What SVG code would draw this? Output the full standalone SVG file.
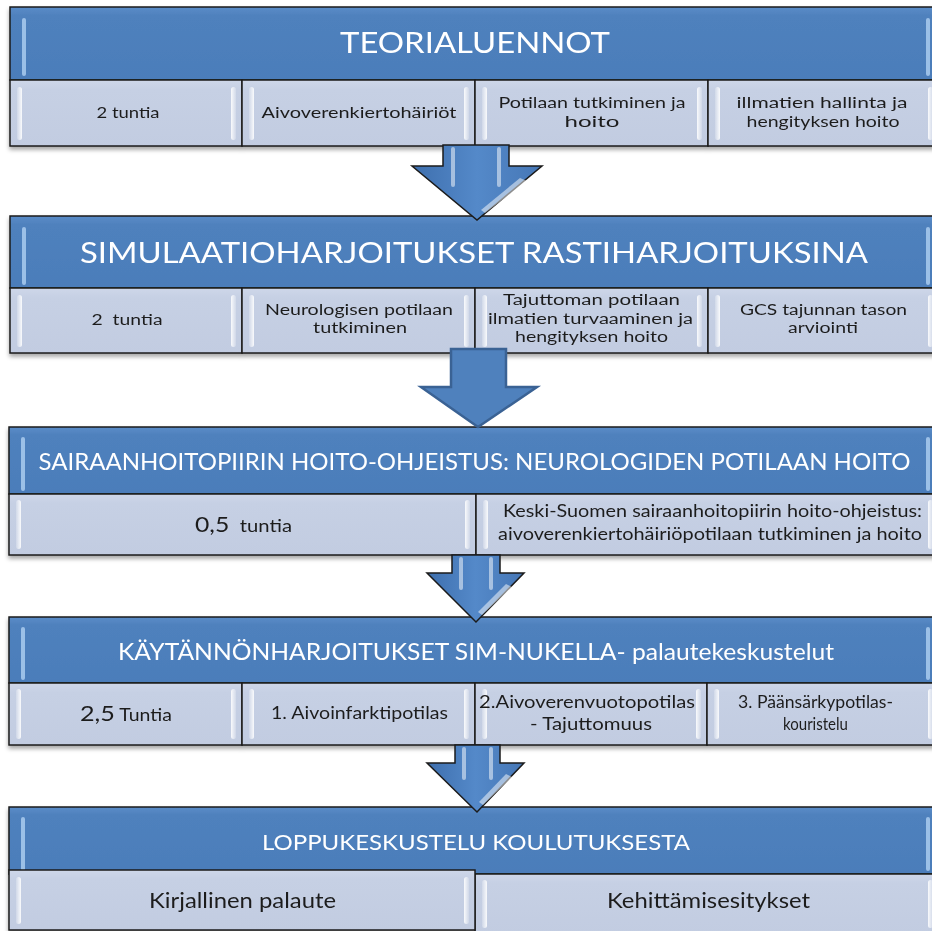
<svg xmlns="http://www.w3.org/2000/svg" width="932" height="931" viewBox="0 0 932 931">
<defs>
  <linearGradient id="hdr" x1="0" y1="0" x2="0" y2="1">
    <stop offset="0" stop-color="#5A8CC8"/>
    <stop offset="0.12" stop-color="#4F81BD"/>
    <stop offset="1" stop-color="#4B7DBA"/>
  </linearGradient>
  <linearGradient id="cell" x1="0" y1="0" x2="0" y2="1">
    <stop offset="0" stop-color="#CED7E9"/>
    <stop offset="0.15" stop-color="#C6D0E4"/>
    <stop offset="1" stop-color="#C2CCE1"/>
  </linearGradient>
  <linearGradient id="hlL" x1="0" y1="0" x2="1" y2="0">
    <stop offset="0" stop-color="#FFFFFF" stop-opacity="0.2"/>
    <stop offset="1" stop-color="#FFFFFF" stop-opacity="0.9"/>
  </linearGradient>
  <linearGradient id="hlR" x1="0" y1="0" x2="1" y2="0">
    <stop offset="0" stop-color="#FFFFFF" stop-opacity="0.9"/>
    <stop offset="1" stop-color="#FFFFFF" stop-opacity="0.2"/>
  </linearGradient>
  <linearGradient id="arr" x1="0" y1="0" x2="1" y2="0">
    <stop offset="0" stop-color="#3E6FAE"/>
    <stop offset="0.5" stop-color="#5489C9"/>
    <stop offset="1" stop-color="#4677B6"/>
  </linearGradient>
  <filter id="sh" x="-5%" y="-10%" width="110%" height="130%">
    <feDropShadow dx="0" dy="3" stdDeviation="2" flood-color="#000" flood-opacity="0.35"/>
  </filter>
  <style>
    .hdr{fill:url(#hdr);stroke:#1B1B1B;stroke-width:1.5}
    .cell{fill:url(#cell);stroke:#1B1B1B;stroke-width:1.5}
    .hl{fill:url(#hlL)}
    .hr{fill:url(#hlR)}
    .hb{fill:#A9CBEF;opacity:0.85}
    .ht{font-family:Lato,"Open Sans",sans-serif;fill:#FFFFFF;text-anchor:middle}
    .ct{font-family:Lato,"Open Sans",sans-serif;fill:#1E1E1E;text-anchor:middle}
    .arrG{fill:url(#arr);stroke:#1B1B1B;stroke-width:1.5;stroke-linejoin:miter}
    .arrF{fill:#4F81BD;stroke:#3A6294;stroke-width:2.5;stroke-linejoin:miter}
    .gl{fill:#FFFFFF;opacity:0.5}
  </style>
</defs>
<rect width="932" height="931" fill="#FFFFFF"/>

<!-- Section 1 -->
<g id="teorialuennot" filter="url(#sh)">
  <rect class="hdr" x="10" y="7" width="931" height="73"/>
  <rect class="hb" x="22" y="18" width="4" height="58" rx="2"/>
  <rect class="hb" x="926" y="18" width="4" height="58" rx="2"/>
  <text class="ht" x="475" y="53" font-size="28" textLength="270" lengthAdjust="spacingAndGlyphs">TEORIALUENNOT</text>
  <g id="t1c1"><rect class="cell" x="10" y="80" width="232" height="66"/><rect class="hl" x="17" y="87" width="5" height="53" rx="2.5"/><rect class="hr" x="231" y="87" width="5" height="53" rx="2.5"/>
    <text class="ct" x="128" y="118" font-size="15" textLength="63" lengthAdjust="spacingAndGlyphs">2 tuntia</text></g>
  <g id="t1c2"><rect class="cell" x="242" y="80" width="233" height="66"/><rect class="hl" x="249" y="87" width="5" height="53" rx="2.5"/><rect class="hr" x="464" y="87" width="5" height="53" rx="2.5"/>
    <text class="ct" x="359" y="118" font-size="15" textLength="195" lengthAdjust="spacingAndGlyphs">Aivoverenkiertohäiriöt</text></g>
  <g id="t1c3"><rect class="cell" x="475" y="80" width="233" height="66"/><rect class="hl" x="482" y="87" width="5" height="53" rx="2.5"/><rect class="hr" x="697" y="87" width="5" height="53" rx="2.5"/>
    <text class="ct" x="592" y="108" font-size="15" textLength="187" lengthAdjust="spacingAndGlyphs">Potilaan tutkiminen ja</text>
    <text class="ct" x="592" y="127" font-size="15" textLength="55" lengthAdjust="spacingAndGlyphs">hoito</text></g>
  <g id="t1c4"><rect class="cell" x="708" y="80" width="233" height="66"/><rect class="hl" x="715" y="87" width="5" height="53" rx="2.5"/><rect class="hr" x="928" y="87" width="5" height="53" rx="2.5"/>
    <text class="ct" x="822" y="108" font-size="15" textLength="171" lengthAdjust="spacingAndGlyphs">illmatien hallinta ja</text>
    <text class="ct" x="823" y="127" font-size="15" textLength="153" lengthAdjust="spacingAndGlyphs">hengityksen hoito</text></g>
</g>

<!-- Section 2 -->
<g id="simulaatio" filter="url(#sh)">
  <rect class="hdr" x="10" y="216" width="931" height="72"/>
  <rect class="hb" x="22" y="227" width="4" height="58" rx="2"/>
  <rect class="hb" x="926" y="227" width="4" height="58" rx="2"/>
  <text class="ht" x="474" y="263" font-size="28" textLength="788" lengthAdjust="spacingAndGlyphs">SIMULAATIOHARJOITUKSET RASTIHARJOITUKSINA</text>
  <g id="t2c1"><rect class="cell" x="10" y="288" width="232" height="65"/><rect class="hl" x="17" y="295" width="5" height="52" rx="2.5"/><rect class="hr" x="231" y="295" width="5" height="52" rx="2.5"/>
    <text class="ct" x="127" y="325" font-size="15.5" textLength="71" lengthAdjust="spacingAndGlyphs" xml:space="preserve">2  tuntia</text></g>
  <g id="t2c2"><rect class="cell" x="242" y="288" width="233" height="65"/><rect class="hl" x="249" y="295" width="5" height="52" rx="2.5"/><rect class="hr" x="464" y="295" width="5" height="52" rx="2.5"/>
    <text class="ct" x="359" y="315" font-size="14.5" textLength="188" lengthAdjust="spacingAndGlyphs">Neurologisen potilaan</text>
    <text class="ct" x="360" y="333" font-size="14.5" textLength="94" lengthAdjust="spacingAndGlyphs">tutkiminen</text></g>
  <g id="t2c3"><rect class="cell" x="475" y="288" width="233" height="65"/><rect class="hl" x="482" y="295" width="5" height="52" rx="2.5"/><rect class="hr" x="697" y="295" width="5" height="52" rx="2.5"/>
    <text class="ct" x="591.5" y="305" font-size="14.5" textLength="177" lengthAdjust="spacingAndGlyphs">Tajuttoman potilaan</text>
    <text class="ct" x="590.5" y="323.5" font-size="14.5" textLength="205" lengthAdjust="spacingAndGlyphs">ilmatien turvaaminen ja</text>
    <text class="ct" x="591.5" y="342" font-size="14.5" textLength="153" lengthAdjust="spacingAndGlyphs">hengityksen hoito</text></g>
  <g id="t2c4"><rect class="cell" x="708" y="288" width="233" height="65"/><rect class="hl" x="715" y="295" width="5" height="52" rx="2.5"/><rect class="hr" x="928" y="295" width="5" height="52" rx="2.5"/>
    <text class="ct" x="823.5" y="315" font-size="14.5" textLength="167" lengthAdjust="spacingAndGlyphs">GCS tajunnan tason</text>
    <text class="ct" x="823" y="333" font-size="14.5" textLength="70" lengthAdjust="spacingAndGlyphs">arviointi</text></g>
</g>

<!-- Section 3 -->
<g id="ohjeistus" filter="url(#sh)">
  <rect class="hdr" x="9" y="427" width="932" height="67"/>
  <rect class="hb" x="21" y="437" width="4" height="54" rx="2"/>
  <rect class="hb" x="926" y="437" width="4" height="54" rx="2"/>
  <text class="ht" x="474.5" y="470" font-size="24" textLength="872" lengthAdjust="spacingAndGlyphs">SAIRAANHOITOPIIRIN HOITO-OHJEISTUS: NEUROLOGIDEN POTILAAN HOITO</text>
  <g id="t3c1"><rect class="cell" x="9" y="494" width="467" height="61"/><rect class="hl" x="16" y="500" width="5" height="49" rx="2.5"/><rect class="hr" x="465" y="500" width="5" height="49" rx="2.5"/>
    <text class="ct" x="243.5" y="532" textLength="97" lengthAdjust="spacingAndGlyphs" xml:space="preserve"><tspan font-size="22">0,5</tspan><tspan font-size="18">  tuntia</tspan></text></g>
  <g id="t3c2"><rect class="cell" x="476" y="494" width="465" height="61"/><rect class="hl" x="483" y="500" width="5" height="49" rx="2.5"/><rect class="hr" x="928" y="500" width="5" height="49" rx="2.5"/>
    <text class="ct" x="712.5" y="517" font-size="17" textLength="419" lengthAdjust="spacingAndGlyphs">Keski-Suomen sairaanhoitopiirin hoito-ohjeistus:</text>
    <text class="ct" x="710" y="540" font-size="17" textLength="424" lengthAdjust="spacingAndGlyphs">aivoverenkiertohäiriöpotilaan tutkiminen ja hoito</text></g>
</g>

<!-- Section 4 -->
<g id="kaytannon" filter="url(#sh)">
  <rect class="hdr" x="9" y="617" width="932" height="66"/>
  <rect class="hb" x="21" y="627" width="4" height="53" rx="2"/>
  <rect class="hb" x="926" y="627" width="4" height="53" rx="2"/>
  <text class="ht" x="476" y="660" font-size="24" textLength="716" lengthAdjust="spacingAndGlyphs">KÄYTÄNNÖNHARJOITUKSET SIM-NUKELLA- palautekeskustelut</text>
  <g id="t4c1"><rect class="cell" x="9" y="683" width="233" height="62"/><rect class="hl" x="16" y="689" width="5" height="50" rx="2.5"/><rect class="hr" x="231" y="689" width="5" height="50" rx="2.5"/>
    <text class="ct" x="126" y="721" textLength="92" lengthAdjust="spacingAndGlyphs"><tspan font-size="22">2,5</tspan><tspan font-size="17"> Tuntia</tspan></text></g>
  <g id="t4c2"><rect class="cell" x="242" y="683" width="233" height="62"/><rect class="hl" x="249" y="689" width="5" height="50" rx="2.5"/><rect class="hr" x="464" y="689" width="5" height="50" rx="2.5"/>
    <text class="ct" x="359.5" y="719" font-size="18" textLength="177" lengthAdjust="spacingAndGlyphs">1. Aivoinfarktipotilas</text></g>
  <g id="t4c3"><rect class="cell" x="475" y="683" width="232" height="62"/><rect class="hl" x="482" y="689" width="5" height="50" rx="2.5"/><rect class="hr" x="696" y="689" width="5" height="50" rx="2.5"/>
    <text class="ct" x="587" y="708" font-size="18" textLength="216" lengthAdjust="spacingAndGlyphs">2.Aivoverenvuotopotilas</text>
    <text class="ct" x="591" y="730" font-size="18" textLength="122" lengthAdjust="spacingAndGlyphs">- Tajuttomuus</text></g>
  <g id="t4c4"><rect class="cell" x="707" y="683" width="234" height="62"/><rect class="hl" x="714" y="689" width="5" height="50" rx="2.5"/><rect class="hr" x="928" y="689" width="5" height="50" rx="2.5"/>
    <text class="ct" x="815.5" y="708" font-size="18" textLength="155" lengthAdjust="spacingAndGlyphs">3. Päänsärkypotilas-</text>
    <text class="ct" x="815.5" y="730" font-size="18" textLength="65" lengthAdjust="spacingAndGlyphs">kouristelu</text></g>
</g>

<!-- Section 5 -->
<g id="loppukeskustelu" filter="url(#sh)">
  <rect class="hdr" x="9" y="807" width="932" height="67"/>
  <rect class="hb" x="21" y="817" width="4" height="54" rx="2"/>
  <rect class="hb" x="926" y="817" width="4" height="54" rx="2"/>
  <text class="ht" x="476" y="850" font-size="22" textLength="428" lengthAdjust="spacingAndGlyphs">LOPPUKESKUSTELU KOULUTUKSESTA</text>
  <g id="t5c2"><rect class="cell" x="475" y="874" width="466" height="60"/><rect class="hl" x="482" y="880" width="5" height="48" rx="2.5"/><rect class="hr" x="928" y="880" width="5" height="48" rx="2.5"/>
    <text class="ct" x="708.5" y="908" font-size="21" textLength="203" lengthAdjust="spacingAndGlyphs">Kehittämisesitykset</text></g>
  <g id="t5c1"><rect class="cell" x="9" y="870" width="466" height="60"/><rect class="hl" x="16" y="877" width="5" height="47" rx="2.5"/><rect class="hr" x="464" y="877" width="5" height="47" rx="2.5"/>
    <text class="ct" x="242.5" y="908" font-size="21" textLength="187" lengthAdjust="spacingAndGlyphs">Kirjallinen palaute</text></g>
</g>

<!-- Connectors -->
<g id="connectors">
  <g id="arrow1">
    <path class="arrG" d="M443,145 L509,145 L509,166 L542,166 L477,220 L412,166 L443,166 Z"/>
    <rect class="gl" x="451" y="147" width="4" height="40" rx="2"/>
    <rect class="gl" x="497" y="147" width="4" height="40" rx="2"/>
    <path class="gl" d="M520,178 L527,181 L485,213 L481,210 Z"/>
  </g>
  <g id="arrow2">
    <path class="arrF" d="M451,349 L506,349 L506,387 L537,387 L478,427 L421,387 L451,387 Z"/>
  </g>
  <g id="arrow3">
    <path class="arrG" d="M452,555 L500,555 L500,573 L524,573 L476,622 L427,573 L452,573 Z"/>
    <rect class="gl" x="459" y="557" width="4" height="33" rx="2"/>
    <rect class="gl" x="489" y="557" width="4" height="33" rx="2"/>
    <path class="gl" d="M506,584 L512,587 L482,615 L478,612 Z"/>
  </g>
  <g id="arrow4">
    <path class="arrG" d="M455,745 L500,745 L500,763 L524,763 L477,812 L427,763 L455,763 Z"/>
    <rect class="gl" x="462" y="747" width="4" height="33" rx="2"/>
    <rect class="gl" x="489" y="747" width="4" height="33" rx="2"/>
    <path class="gl" d="M506,774 L512,777 L483,805 L479,802 Z"/>
  </g>
</g>
</svg>
